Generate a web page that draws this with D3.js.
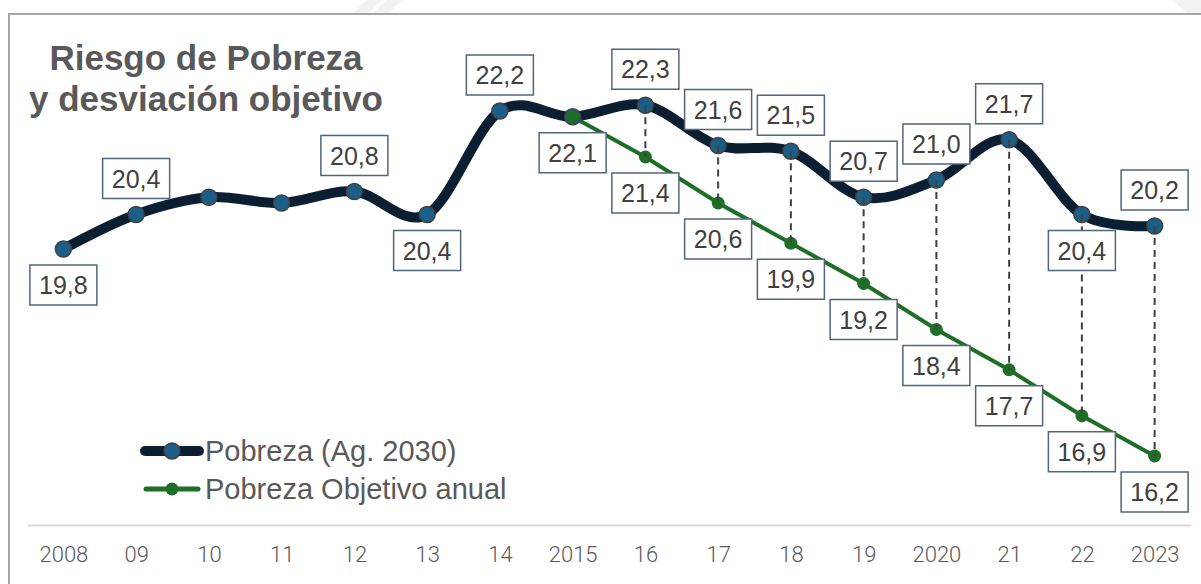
<!DOCTYPE html>
<html>
<head>
<meta charset="utf-8">
<script src="https://cdn.jsdelivr.net/npm/d3@7"></script>
<style>
    body {
        margin: 0;
        background: #fff;
        font-family: 'Liberation Sans', Arial, sans-serif;
    }
    svg {
        display: block;
    }
</style>
</head>
<body>
<svg width="1201" height="584"></svg>
<script>
    // years on the x axis (as printed)
    var years = ["2008", "09", "10", "11", "12", "13", "14", "2015", "16", "17", "18", "19", "2020", "21", "22", "2023"];

    // Pobreza (Ag. 2030)
    var pobreza = [19.8, 20.4, 20.7, 20.6, 20.8, 20.4, 22.2, 22.1, 22.3, 21.6, 21.5, 20.7, 21.0, 21.7, 20.4, 20.2];

    // Pobreza Objetivo anual (starts 2015)
    var objetivo = [null, null, null, null, null, null, null, 22.1, 21.4, 20.6, 19.9, 19.2, 18.4, 17.7, 16.9, 16.2];

    // which data labels are shown: 1 = above, -1 = below, 0 = none
    var pobrezaLabels = [-1, 1, 0, 0, 1, -1, 1, 0, 1, 1, 1, 1, 1, 1, -1, 1];
    var objetivoLabels = [0, 0, 0, 0, 0, 0, 0, -1, -1, -1, -1, -1, -1, -1, -1, -1];

    var svg = d3.select("svg");

    var darkLine = "#0c1e32",
        blueDot = "#1b5f88",
        green = "#1f6e27",
        labelBorder = "#52667b",
        textGray = "#404040";

    // faint background shapes above the frame
    svg.append("polygon").attr("points", "352,14 366,0 382,0 368,14").attr("fill", "#f2f2f2");
    svg.append("polygon").attr("points", "372,14 386,0 402,0 388,14").attr("fill", "#f2f2f2");
    svg.append("polygon").attr("points", "1173,0 1201,0 1201,14 1187,14").attr("fill", "#f2f2f2");

    // frame
    svg.append("rect")
        .attr("x", 9).attr("y", 14)
        .attr("width", 1220).attr("height", 600)
        .attr("fill", "none")
        .attr("stroke", "#a6a6a6")
        .attr("stroke-width", 2);

    var x = d3.scalePoint()
        .domain(years)
        .range([27, 1191])
        .padding(0.5);

    var y = d3.scaleLinear()
        .domain([15, 24])
        .range([525, 7.5]);

    // x axis
    var xAxis = svg.append("g")
        .attr("transform", "translate(0,525)")
        .call(d3.axisBottom(x).tickSize(0).tickPadding(0));
    xAxis.select(".domain").attr("stroke", "#d9d9d9").attr("stroke-width", 2);
    xAxis.selectAll("text")
        .attr("y", 37)
        .attr("dy", 0)
        .attr("fill", "#595959")
        .style("font-family", "Roboto, sans-serif")
        .style("font-weight", "300")
        .style("font-size", "22px");

    var pts = years.map(function(d, i) { return {year: d, p: pobreza[i], o: objetivo[i], i: i}; });

    // main line (smoothed)
    var lineMain = d3.line()
        .x(function(d) { return x(d.year); })
        .y(function(d) { return y(d.p); })
        .curve(d3.curveCatmullRom.alpha(0));

    svg.append("path")
        .datum(pts)
        .attr("d", lineMain)
        .attr("fill", "none")
        .attr("stroke", darkLine)
        .attr("stroke-width", 10)
        .attr("stroke-linecap", "round");

    // objective line
    var objPts = pts.filter(function(d) { return d.o != null; });
    var lineObj = d3.line()
        .x(function(d) { return x(d.year); })
        .y(function(d) { return y(d.o); });

    svg.append("path")
        .datum(objPts)
        .attr("d", lineObj)
        .attr("fill", "none")
        .attr("stroke", green)
        .attr("stroke-width", 4);

    // markers
    svg.append("g").selectAll("circle")
        .data(pts)
        .enter().append("circle")
        .attr("cx", function(d) { return x(d.year); })
        .attr("cy", function(d) { return y(d.p); })
        .attr("r", 8)
        .attr("fill", blueDot)
        .attr("stroke", "#404040")
        .attr("stroke-width", 1.5);

    svg.append("g").selectAll("circle")
        .data(objPts)
        .enter().append("circle")
        .attr("cx", function(d) { return x(d.year); })
        .attr("cy", function(d) { return y(d.o); })
        .attr("r", 6.5)
        .attr("fill", green);

    // dashed gaps between actual and objective
    svg.append("g").selectAll("line")
        .data(objPts.slice(1))
        .enter().append("line")
        .attr("x1", function(d) { return x(d.year); })
        .attr("x2", function(d) { return x(d.year); })
        .attr("y1", function(d) { return y(d.p); })
        .attr("y2", function(d) { return y(d.o); })
        .attr("stroke", "#404040")
        .attr("stroke-width", 2)
        .attr("stroke-dasharray", "7,5");

    // data labels
    var labels = [];
    pts.forEach(function(d) {
        if (pobrezaLabels[d.i] !== 0) labels.push({year: d.year, v: d.p, side: pobrezaLabels[d.i]});
        if (objetivoLabels[d.i] !== 0) labels.push({year: d.year, v: d.o, side: objetivoLabels[d.i]});
    });
    var fmt = function(v) { return d3.format(".1f")(v).replace(".", ","); };

    var lab = svg.append("g").selectAll("g")
        .data(labels)
        .enter().append("g")
        .attr("transform", function(d) {
            return "translate(" + x(d.year) + "," + (y(d.v) - 36 * d.side) + ")";
        });
    lab.append("rect")
        .attr("x", -33.5).attr("y", -20)
        .attr("width", 67).attr("height", 40)
        .attr("fill", "#fff")
        .attr("stroke", labelBorder)
        .attr("stroke-width", 1.5);
    lab.append("text")
        .attr("text-anchor", "middle")
        .attr("dy", "0.36em")
        .attr("fill", textGray)
        .style("font-size", "25px")
        .text(function(d) { return fmt(d.v); });

    // title
    var title = svg.append("text")
        .attr("text-anchor", "middle")
        .attr("fill", "#595959")
        .attr("font-weight", "bold")
        .style("font-size", "35px");
    title.append("tspan").attr("x", 206).attr("y", 70).text("Riesgo de Pobreza");
    title.append("tspan").attr("x", 206).attr("y", 111).text("y desviación objetivo");

    // legend
    var legend = svg.append("g");
    legend.append("line")
        .attr("x1", 145).attr("x2", 199).attr("y1", 451).attr("y2", 451)
        .attr("stroke", darkLine).attr("stroke-width", 10).attr("stroke-linecap", "round");
    legend.append("circle")
        .attr("cx", 172).attr("cy", 451).attr("r", 8)
        .attr("fill", blueDot).attr("stroke", "#404040").attr("stroke-width", 1.5);
    legend.append("line")
        .attr("x1", 146).attr("x2", 198).attr("y1", 489).attr("y2", 489)
        .attr("stroke", green).attr("stroke-width", 5).attr("stroke-linecap", "round");
    legend.append("circle")
        .attr("cx", 172).attr("cy", 489).attr("r", 6.5)
        .attr("fill", green);
    legend.append("text")
        .attr("x", 205).attr("y", 461)
        .attr("fill", "#595959")
        .style("font-size", "29px")
        .text("Pobreza (Ag. 2030)");
    legend.append("text")
        .attr("x", 205).attr("y", 499)
        .attr("fill", "#595959")
        .style("font-size", "29px")
        .text("Pobreza Objetivo anual");
</script>
</body>
</html>
